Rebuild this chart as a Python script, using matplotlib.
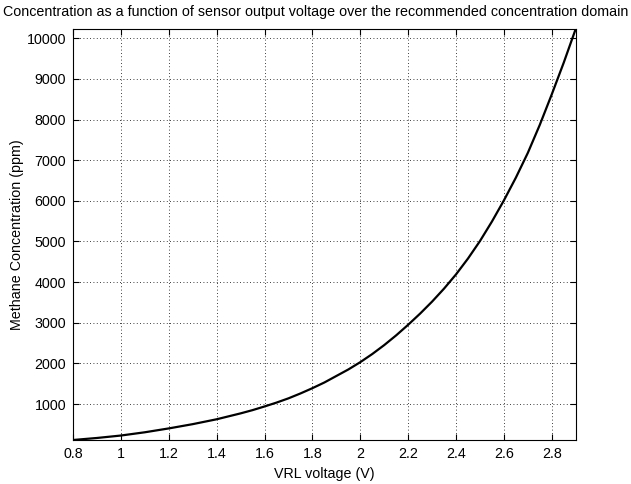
import matplotlib
matplotlib.use("Agg")
import matplotlib.pyplot as plt

# ================= DATA =================
voltage = [0.8, 0.9, 1.0, 1.1, 1.2, 1.3, 1.4, 1.5, 1.55, 1.6, 1.65, 1.7, 1.75, 1.8, 1.85,
           1.9, 1.95, 2.0, 2.05, 2.1, 2.15, 2.2, 2.25, 2.3, 2.35, 2.4, 2.45,
           2.5, 2.55, 2.6, 2.65, 2.7, 2.75, 2.8, 2.85, 2.9]
concentration = [115, 165, 225, 305, 400, 505, 625, 770, 850, 940, 1035, 1140, 1260, 1390, 1530,
                 1690, 1850, 2030, 2230, 2450, 2690, 2950, 3225, 3520, 3840, 4190, 4580,
                 5010, 5490, 6010, 6570, 7180, 7870, 8620, 9400, 10230]

x_ticks = [0.8, 1.0, 1.2, 1.4, 1.6, 1.8, 2.0, 2.2, 2.4, 2.6, 2.8]
x_tick_labels = ["0.8", "1", "1.2", "1.4", "1.6", "1.8", "2", "2.2", "2.4", "2.6", "2.8"]
y_ticks = [1000, 2000, 3000, 4000, 5000, 6000, 7000, 8000, 9000, 10000]

# ================= PLOT =================
plt.rcParams["font.family"] = ["Liberation Sans", "DejaVu Sans"]
plt.rcParams["font.size"] = 10.3

fig = plt.figure(figsize=(6.31, 4.84), dpi=100)
ax = fig.add_axes([0.1157, 0.0909, 0.7967, 0.8492])

ax.plot(voltage, concentration, color="black", linewidth=1.6)

ax.set_xlim(0.8, 2.9)
ax.set_ylim(115, 10227)
ax.set_xticks(x_ticks)
ax.set_xticklabels(x_tick_labels)
ax.set_yticks(y_ticks)

ax.grid(True, linestyle=(0, (1, 3)), color="black", linewidth=0.6)
ax.tick_params(direction="in", top=True, right=True, length=4, width=0.8, pad=5)
for s in ax.spines.values():
    s.set_linewidth(0.8)

ax.set_xlabel("VRL voltage (V)", labelpad=4)
ax.set_ylabel("Methane Concentration (ppm)", labelpad=2)
fig.text(0.5, 0.975, "Concentration as a function of sensor output voltage over the recommended concentration domain",
         ha="center", va="center", fontsize=10.3)

fig.savefig("out.png", dpi=100)
